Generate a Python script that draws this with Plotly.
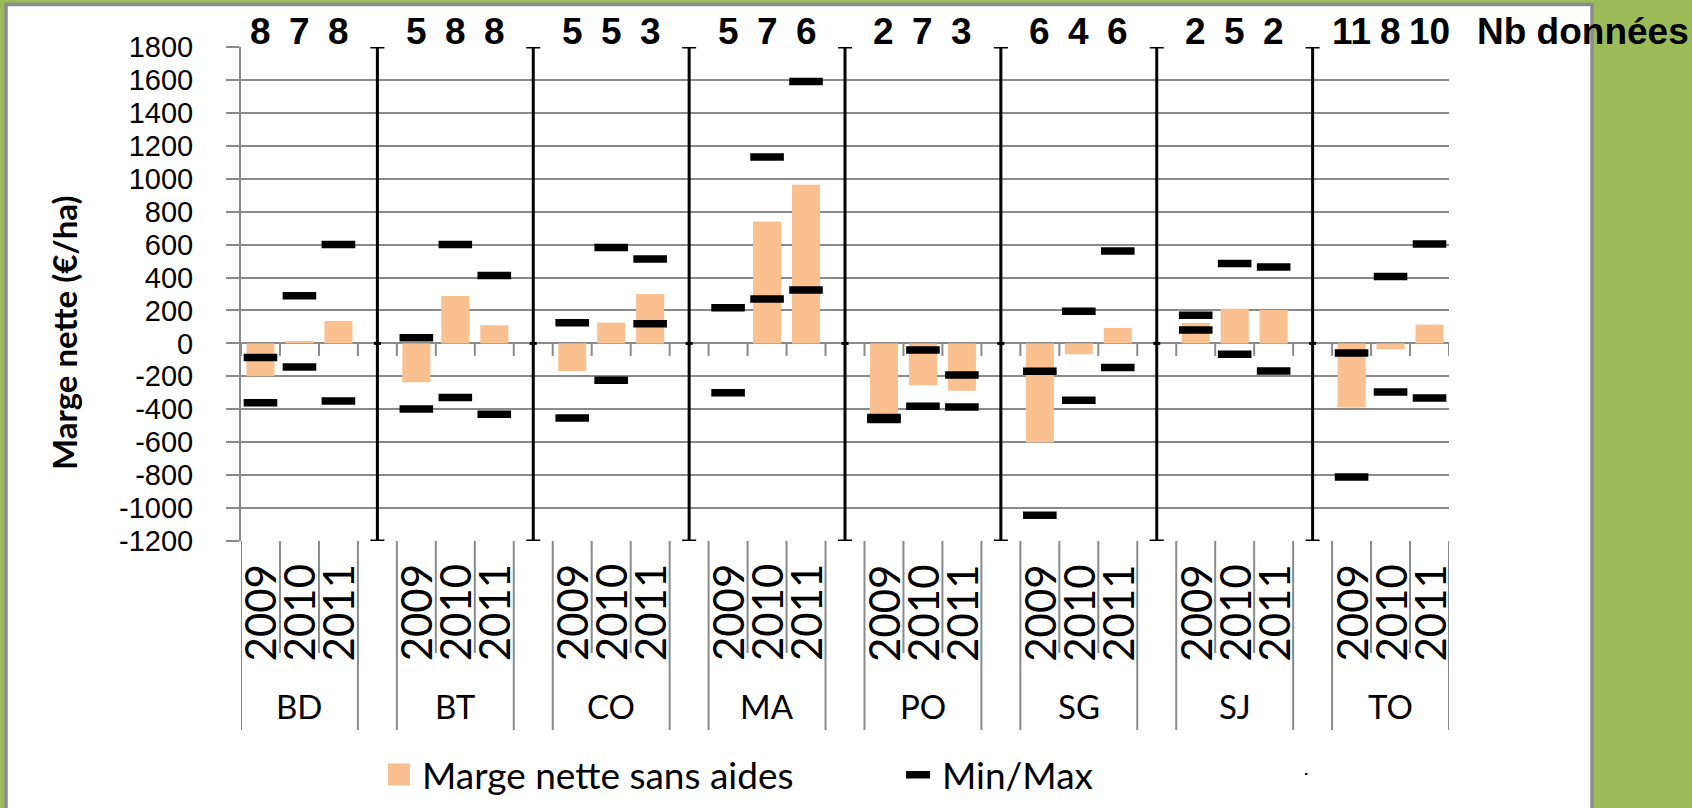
import plotly.graph_objects as go

# --- data -------------------------------------------------------------
groups = ["BD", "BT", "CO", "MA", "PO", "SG", "SJ", "TO"]
years = ["2009", "2010", "2011"]

# net margin without subsidies (EUR/ha), one value per group and year
marge_nette = [-200, 15, 136,
               -236, 288, 110,
               -169, 126, 300,
               None, 741, 964,
               -457, -254, -287,
               -602, -66, 94,
               124, 211, 203,
               -390, -36, 114]

marge_max = [-86, 290, 600,
             35, 600, 412,
             126, 582, 513,
             217, 1132, 1590,
             -450, -40, -192,
             -169, 195, 561,
             171, 485, 464,
             -58, 407, 604]

marge_min = [-360, -143, -350,
             -398, -329, -431,
             -453, -224, 120,
             -299, 270, 324,
             -462, -382, -386,
             -1044, -346, -147,
             82, -66, -167,
             -811, -295, -331]

nb_donnees = [8, 7, 8,
              5, 8, 8,
              5, 5, 3,
              5, 7, 6,
              2, 7, 3,
              6, 4, 6,
              2, 5, 2,
              11, 8, 10]

y_min, y_max = -1200, 1800
y_ticks = [-1200, -1000, -800, -600, -400, -200, 0, 200, 400, 600, 800,
           1000, 1200, 1400, 1600, 1800]
y_tick_labels = ["-1200", "-1000", "-800", "-600", "-400", "-200", "0", "200",
                 "400", "600", "800", "1000", "1200", "1400", "1600", "1800"]

# --- category layout: 3 years per group, one empty slot between groups --
data_keys = []
sep_keys = []
cat_order = []
for gi, g in enumerate(groups):
    for y in years:
        key = f"{g} {y}"
        data_keys.append(key)
        cat_order.append(key)
    if gi < len(groups) - 1:
        key = f"{g}/{groups[gi + 1]}"
        sep_keys.append(key)
        cat_order.append(key)

# --- page geometry ------------------------------------------------------
W, H = 1692, 808
ML, MR, MT, MB = 241, 243, 47, 267
PW = W - ML - MR
PH = H - MT - MB


def px_x(px):
    return (px - ML) / PW


def px_y(py):
    return (H - MB - py) / PH


FONT = "Lato, 'Open Sans', sans-serif"
TICK_FONT = "'Liberation Sans', Arial, sans-serif"
NARROW = "'Liberation Sans Narrow', 'Arial Narrow', 'Liberation Sans', sans-serif"
GRID = "#8a8a8a"
ORANGE = "#FAC090"
GREEN = "#9BBB59"

fig = go.Figure()

fig.add_trace(go.Bar(
    x=data_keys, y=marge_nette, name="Marge nette sans aides",
    marker=dict(color=ORANGE, line=dict(width=0)),
))

fig.add_trace(go.Scatter(
    x=data_keys + data_keys, y=marge_max + marge_min, name="Min/Max",
    mode="markers",
    marker=dict(symbol="line-ew", size=24, color="black",
                line=dict(width=7.5, color="black")),
))

# vertical separators between groups, spanning the full value range
fig.add_trace(go.Scatter(
    x=sep_keys, y=[0] * len(sep_keys), mode="markers",
    marker=dict(symbol="line-ew", size=5, color="black",
                line=dict(width=3, color="black")),
    error_y=dict(type="data", symmetric=False,
                 array=[y_max] * len(sep_keys),
                 arrayminus=[-y_min] * len(sep_keys),
                 thickness=3, width=7, color="black"),
    cliponaxis=False,
))

shapes = []
# white panel
shapes.append(dict(type="rect", xref="paper", yref="paper",
                   x0=px_x(6), x1=px_x(1592), y0=px_y(830), y1=px_y(4.5),
                   fillcolor="white", line=dict(color="#8c8c8c", width=3.5),
                   layer="below"))

zero_paper = (0 - y_min) / (y_max - y_min)
n_cat = len(cat_order)
for k in range(n_cat + 1):
    xb = k - 0.5
    # tick marks hanging from the zero line
    shapes.append(dict(type="line", xref="x", yref="paper",
                       x0=xb, x1=xb, y0=zero_paper, y1=zero_paper - 12.5 / PH,
                       line=dict(color=GRID, width=2)))
    # label dividers below the plot
    outer = (k % 4 in (0, 3))
    depth = 189 if outer else 112
    shapes.append(dict(type="line", xref="x", yref="paper",
                       x0=xb, x1=xb, y0=0, y1=-depth / PH,
                       line=dict(color=GRID, width=2)))

# legend swatches
shapes.append(dict(type="rect", xref="paper", yref="paper",
                   x0=px_x(388), x1=px_x(410), y0=px_y(785.5), y1=px_y(763.5),
                   fillcolor=ORANGE, line=dict(width=0)))
shapes.append(dict(type="rect", xref="paper", yref="paper",
                   x0=px_x(906), x1=px_x(930), y0=px_y(778.5), y1=px_y(771),
                   fillcolor="black", line=dict(width=0)))
shapes.append(dict(type="rect", xref="paper", yref="paper",
                   x0=px_x(1305), x1=px_x(1307.5), y0=px_y(775), y1=px_y(773),
                   fillcolor="black", line=dict(width=0)))

annotations = []
for key, n in zip(data_keys, nb_donnees):
    annotations.append(dict(x=key, xref="x", y=px_y(31.5), yref="paper",
                            text=f"<b>{n}</b>", showarrow=False,
                            xanchor="center", yanchor="middle",
                            font=dict(family=NARROW, size=37, color="black")))
annotations.append(dict(x=px_x(1475), xref="paper", y=px_y(31.5), yref="paper",
                        text="<b>Nb données</b>", showarrow=False,
                        xanchor="left", yanchor="middle",
                        font=dict(family=NARROW, size=37, color="black")))

for key in data_keys:
    annotations.append(dict(x=key, xref="x", y=px_y(613), yref="paper",
                            text=key.split(" ")[1], textangle=-90,
                            showarrow=False, xanchor="center", yanchor="middle",
                            font=dict(family=FONT, size=42, color="black")))
for gi, g in enumerate(groups):
    annotations.append(dict(x=data_keys[gi * 3 + 1], xref="x", y=px_y(706),
                            yref="paper", text=g, showarrow=False,
                            xanchor="center", yanchor="middle",
                            font=dict(family=FONT, size=33, color="black")))

annotations.append(dict(x=px_x(64), xref="paper", y=px_y(333), yref="paper",
                        text="<b>Marge nette (€/ha)</b>", textangle=-90,
                        showarrow=False, xanchor="center", yanchor="middle",
                        font=dict(family=FONT, size=33, color="black")))

annotations.append(dict(x=px_x(420), xref="paper", y=px_y(774), yref="paper",
                        text="Marge nette sans aides", showarrow=False,
                        xanchor="left", yanchor="middle",
                        font=dict(family=FONT, size=37, color="black")))
annotations.append(dict(x=px_x(940), xref="paper", y=px_y(774), yref="paper",
                        text="Min/Max", showarrow=False,
                        xanchor="left", yanchor="middle",
                        font=dict(family=FONT, size=37, color="black")))

fig.update_layout(
    width=W, height=H,
    margin=dict(l=ML, r=MR, t=MT, b=MB, pad=0),
    paper_bgcolor=GREEN, plot_bgcolor="white",
    showlegend=False, bargap=0.28,
    shapes=shapes, annotations=annotations,
    xaxis=dict(type="category", categoryorder="array", categoryarray=cat_order,
               range=[-0.5, n_cat - 0.5], showticklabels=False, ticks="",
               showgrid=False, showline=False, zeroline=False, fixedrange=True),
    yaxis=dict(range=[y_min, y_max], tickmode="array", tickvals=y_ticks,
               ticktext=y_tick_labels, ticks="outside", ticklen=13,
               tickwidth=2, tickcolor=GRID, showgrid=True, gridcolor=GRID,
               gridwidth=2, showline=True, linecolor=GRID, linewidth=2,
               zeroline=True, zerolinecolor=GRID, zerolinewidth=2,
               ticklabelstandoff=27,
               tickfont=dict(family=TICK_FONT, size=29, color="black"),
               fixedrange=True),
)

fig.write_html("out.html")
